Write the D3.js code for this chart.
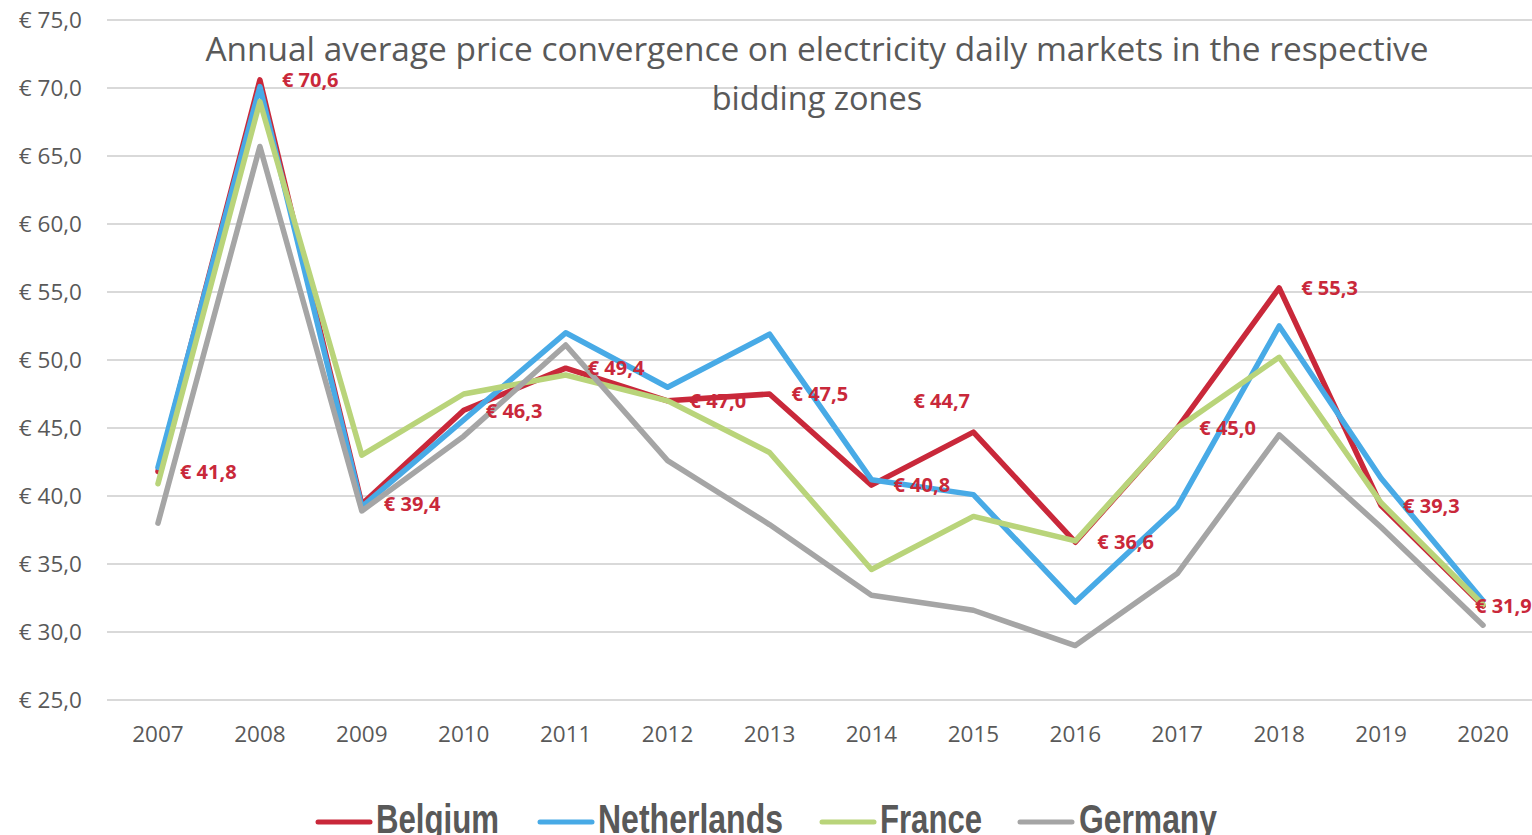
<!DOCTYPE html>
<html>
<head>
<meta charset="utf-8">
<script src="https://cdn.jsdelivr.net/npm/d3@7"></script>
<style>
  html, body { margin: 0; padding: 0; background: #fff; }
  svg { display: block; }
</style>
</head>
<body>
<svg id="chart" width="1532" height="835"></svg>
<script>
const years = ["2007","2008","2009","2010","2011","2012","2013","2014","2015","2016","2017","2018","2019","2020"];
const belgium     = [41.8, 70.6, 39.4, 46.3, 49.4, 47.0, 47.5, 40.8, 44.7, 36.6, 45.0, 55.3, 39.3, 31.9];
const netherlands = [42.1, 70.1, 39.2, 45.6, 52.0, 48.0, 51.9, 41.2, 40.1, 32.2, 39.2, 52.5, 41.3, 32.3];
const france      = [40.9, 69.0, 43.0, 47.5, 48.9, 47.0, 43.2, 34.6, 38.5, 36.7, 45.0, 50.2, 39.5, 32.0];
const germany     = [38.0, 65.7, 38.9, 44.4, 51.1, 42.6, 37.9, 32.7, 31.6, 29.0, 34.3, 44.5, 37.7, 30.5];
const yTicks = [25, 30, 35, 40, 45, 50, 55, 60, 65, 70, 75];
const seriesNames = ["Belgium", "Netherlands", "France", "Germany"];
const titleLines = ["Annual average price convergence on electricity daily markets in the respective", "bidding zones"];

const colors = {
  Belgium: "#c9283a",
  Netherlands: "#48aae6",
  France: "#b9d47a",
  Germany: "#a5a5a5"
};
const series = [
  {name: "Belgium", values: belgium},
  {name: "Netherlands", values: netherlands},
  {name: "France", values: france},
  {name: "Germany", values: germany}
];

const svg = d3.select("#chart");
const textColor = "#595959";

const x = d3.scaleBand().domain(years).range([107, 1534]);
const y = d3.scaleLinear().domain([25, 75]).range([700, 20]);
const cx = d => x(d) + x.bandwidth() / 2;
const fmt = v => "€ " + v.toFixed(1).replace(".", ",");

// gridlines
svg.append("g")
  .selectAll("line")
  .data(yTicks)
  .join("line")
  .attr("x1", 107).attr("x2", 1532)
  .attr("y1", d => y(d)).attr("y2", d => y(d))
  .attr("stroke", "#d9d9d9")
  .attr("stroke-width", 2);

// y axis labels
svg.append("g")
  .selectAll("text")
  .data(yTicks)
  .join("text")
  .attr("x", 82)
  .attr("y", d => y(d))
  .attr("dy", "0.36em")
  .attr("text-anchor", "end")
  .attr("font-family", "Open Sans")
  .attr("font-size", 22.5)
  .attr("fill", textColor)
  .text(d => fmt(d));

// x axis labels
svg.append("g")
  .selectAll("text")
  .data(years)
  .join("text")
  .attr("x", d => cx(d))
  .attr("y", 742)
  .attr("text-anchor", "middle")
  .attr("font-family", "Open Sans")
  .attr("font-size", 22.5)
  .attr("fill", textColor)
  .text(d => d);

// title
const title = svg.append("g");
titleLines.forEach((t, i) => {
  const el = title.append("text")
    .attr("x", 817)
    .attr("y", 61 + i * 49)
    .attr("text-anchor", "middle")
    .attr("font-family", "Open Sans")
    .attr("font-size", 32.5)
    .attr("fill", textColor)
    .text(t);
  if (i === 0) el.attr("textLength", 1223).attr("lengthAdjust", "spacingAndGlyphs");
});

// lines
const line = d3.line()
  .x((d, i) => cx(years[i]))
  .y(d => y(d));

svg.append("g")
  .selectAll("path")
  .data(series)
  .join("path")
  .attr("d", d => line(d.values))
  .attr("fill", "none")
  .attr("stroke", d => colors[d.name])
  .attr("stroke-width", 5.5)
  .attr("stroke-linejoin", "round")
  .attr("stroke-linecap", "round");

// data labels for Belgium (two were moved by hand in the original)
const labelShift = {8: [-82, -31], 13: [-30, 0]};
svg.append("g")
  .selectAll("text")
  .data(belgium)
  .join("text")
  .attr("x", (d, i) => cx(years[i]) + 22 + (labelShift[i] ? labelShift[i][0] : 0))
  .attr("y", (d, i) => y(d) + (labelShift[i] ? labelShift[i][1] : 0))
  .attr("dy", "0.36em")
  .attr("font-family", "Open Sans")
  .attr("font-weight", "bold")
  .attr("font-size", 20)
  .attr("fill", colors.Belgium)
  .text(d => fmt(d));

// legend
const legendPos = [
  {line: 318, text: 376, width: 123},
  {line: 540, text: 598, width: 185},
  {line: 822, text: 880, width: 102},
  {line: 1020, text: 1079, width: 138}
];
const legend = svg.append("g")
  .selectAll("g")
  .data(seriesNames)
  .join("g");
legend.append("line")
  .attr("x1", (d, i) => legendPos[i].line)
  .attr("x2", (d, i) => legendPos[i].line + 52)
  .attr("y1", 822).attr("y2", 822)
  .attr("stroke", d => colors[d])
  .attr("stroke-width", 5)
  .attr("stroke-linecap", "round");
legend.append("text")
  .attr("x", (d, i) => legendPos[i].text)
  .attr("y", 833)
  .attr("font-family", "Liberation Sans")
  .attr("font-weight", "bold")
  .attr("font-size", 41)
  .attr("fill", textColor)
  .attr("textLength", (d, i) => legendPos[i].width)
  .attr("lengthAdjust", "spacingAndGlyphs")
  .text(d => d);
</script>
</body>
</html>
